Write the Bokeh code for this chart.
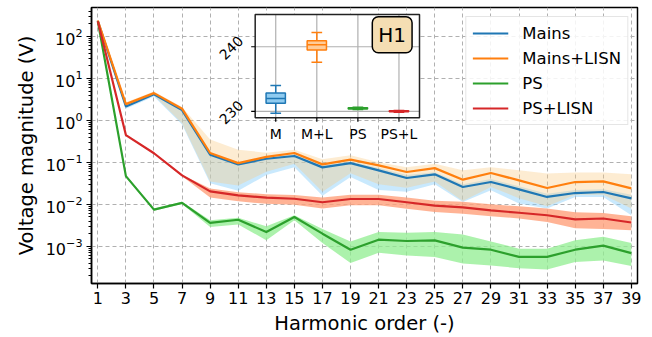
import numpy as np
from bokeh.plotting import figure
from bokeh.models import Range1d, LinearScale, Legend, LegendItem, Label
from bokeh.core.properties import value
from bokeh.embed import file_html
from bokeh.resources import INLINE

FONT = "DejaVu Sans"

# ---------------- data ----------------
harmonics = [1, 3, 5, 7, 9, 11, 13, 15, 17, 19, 21, 23, 25, 27, 29, 31, 33, 35, 37, 39]

mains = [232, 2.15, 4.2, 1.76, 0.152, 0.0895, 0.122, 0.142, 0.076, 0.096, 0.0645, 0.0424,
         0.0518, 0.0259, 0.034, 0.0228, 0.0150, 0.0186, 0.0197, 0.0139]
mains_lo = [229.5, 1.9, 3.7, 0.8, 0.032, 0.021, 0.05, 0.077, 0.016, 0.045, 0.022, 0.02,
            0.03, 0.0113, 0.0216, 0.0105, 0.008, 0.015, 0.015, 0.0055]
mains_hi = [234, 2.4, 4.6, 1.95, 0.17, 0.1, 0.135, 0.16, 0.085, 0.107, 0.073, 0.05,
            0.058, 0.03, 0.04, 0.027, 0.018, 0.022, 0.023, 0.017]

lisn = [240, 2.44, 4.47, 1.9, 0.167, 0.096, 0.135, 0.167, 0.0896, 0.116, 0.085, 0.0589,
        0.073, 0.0387, 0.0557, 0.0373, 0.0245, 0.034, 0.0353, 0.024]
lisn_lo = [238, 2.2, 4.0, 0.85, 0.035, 0.028, 0.06, 0.093, 0.02, 0.055, 0.03, 0.025,
           0.035, 0.012, 0.026, 0.014, 0.009, 0.017, 0.017, 0.008]
lisn_hi = [242, 2.7, 4.9, 2.1, 0.35, 0.2, 0.17, 0.2, 0.118, 0.147, 0.1, 0.077,
           0.093, 0.065, 0.077, 0.065, 0.054, 0.057, 0.057, 0.052]

ps = [230.5, 0.047, 0.0075, 0.0108, 0.0036, 0.0043, 0.0022, 0.005, 0.002, 0.00083, 0.00144,
      0.00134, 0.00139, 0.00093, 0.00083, 0.00056, 0.00056, 0.00083, 0.00104, 0.00069]
ps_lo = [230, 0.044, 0.007, 0.0102, 0.0029, 0.0033, 0.0014, 0.0042, 0.0012, 0.0004, 0.0007,
         0.0006, 0.00056, 0.00039, 0.00035, 0.0003, 0.00028, 0.00042, 0.00046, 0.00034]
ps_hi = [231, 0.05, 0.008, 0.0115, 0.0042, 0.0048, 0.003, 0.0055, 0.0026, 0.0013, 0.0022,
         0.0021, 0.0022, 0.0019, 0.0013, 0.00088, 0.00088, 0.0014, 0.0017, 0.0012]

psl = [230, 0.447, 0.165, 0.049, 0.0204, 0.0164, 0.0144, 0.0136, 0.0112, 0.0134, 0.0134,
       0.0112, 0.0093, 0.0085, 0.0072, 0.0063, 0.0055, 0.0044, 0.0046, 0.0037]
psl_lo = [229.5, 0.43, 0.158, 0.047, 0.0145, 0.0118, 0.0103, 0.0098, 0.008, 0.0095, 0.0095,
          0.0079, 0.0066, 0.006, 0.0052, 0.0046, 0.0038, 0.0027, 0.0026, 0.0024]
psl_hi = [230.5, 0.46, 0.172, 0.051, 0.024, 0.0195, 0.0175, 0.0168, 0.0145, 0.017, 0.017,
          0.0145, 0.0122, 0.0115, 0.0100, 0.009, 0.008, 0.0065, 0.0062, 0.0052]

series_names = ["Mains", "Mains+LISN", "PS", "PS+LISN"]
line_colors = ["#1f77b4", "#ff7f0e", "#2ca02c", "#d62728"]

# inset (H1 fundamental) box data
inset_labels = ["M", "M+L", "PS", "PS+L"]
inset_pos = [1, 2, 3, 4]
box_q1 = [231.24, 239.49, 230.36, 229.92]
box_q3 = [232.84, 240.93, 230.56, 230.08]
box_med = [232.0, 240.3, 230.46, 230.0]
box_wlo = [229.7, 237.6, 230.28, 229.86]
box_whi = [234.0, 242.2, 230.64, 230.14]
box_fill = ["#8fcbf0", "#ffcc99", "#90ee90", "#ffa07a"]
inset_yticks = [230, 240]
inset_ytick_labels = ["230", "240"]
INSET_X = (0.5, 4.5)
INSET_Y = (229.0, 245.0)

# ---------------- figure ----------------
p = figure(width=652, height=337, y_axis_type="log",
           x_range=Range1d(0.55, 39.44), y_range=Range1d(1.3e-4, 490),
           output_backend="svg", toolbar_location=None,
           min_border_left=91, min_border_right=15, min_border_top=7, min_border_bottom=54)

p.background_fill_color = "white"
p.outline_line_color = "black"
p.outline_line_width = 1.5

# bands
band_colors = [("#87cefa", 0.45), ("#f9ca82", 0.36), ("#90ee90", 0.75), ("#ffa07a", 0.8)]
band_data = [(mains_lo, mains_hi), (lisn_lo, lisn_hi), (ps_lo, ps_hi), (psl_lo, psl_hi)]
for (lo, hi), (c, a) in zip(band_data, band_colors):
    p.varea(x=harmonics, y1=lo, y2=hi, fill_color=c, fill_alpha=a)

# lines
line_renderers = []
for ys, c in zip([mains, lisn, ps, psl], line_colors):
    line_renderers.append(p.line(harmonics, ys, line_color=c, line_width=2.2))

# axes
p.xaxis.ticker = harmonics
p.xaxis.minor_tick_line_color = None
for ax in (p.xaxis, p.yaxis):
    ax.axis_line_width = 1.5
    ax.major_tick_in = 0
    ax.major_tick_out = 5
    ax.major_tick_line_width = 1.2
    ax.major_label_text_font = FONT
    ax.major_label_text_font_size = "16px"
    ax.major_label_text_color = "black"
    ax.axis_label_text_font = FONT
    ax.axis_label_text_font_size = "19.5px"
    ax.axis_label_text_font_style = "normal"
    ax.axis_label_text_color = "black"
p.yaxis.minor_tick_in = 0
p.yaxis.minor_tick_out = 3
p.xaxis.major_label_standoff = 3
p.yaxis.major_label_standoff = 4
p.xaxis.axis_label = "Harmonic order (-)"
p.yaxis.axis_label = "Voltage magnitude (V)"
p.xaxis.axis_label_standoff = 5
p.yaxis.axis_label_standoff = 5

p.grid.grid_line_color = "#b0b0b0"
p.grid.grid_line_dash = "4 3"
p.grid.grid_line_width = 1

# ---------------- inset ----------------
p.extra_x_ranges = {"ix": Range1d(-3.485, 9.807)}
p.extra_y_ranges = {"iy": Range1d(203.33, 246.08)}
p.extra_x_scales = {"ix": LinearScale()}
p.extra_y_scales = {"iy": LinearScale()}
kw = dict(x_range_name="ix", y_range_name="iy")

p.quad(left=[INSET_X[0]], right=[INSET_X[1]], bottom=[INSET_Y[0]], top=[INSET_Y[1]],
       fill_color="white", line_color=None, **kw)
# inset grid
p.segment(x0=inset_pos, x1=inset_pos, y0=[INSET_Y[0]] * 4, y1=[INSET_Y[1]] * 4,
          line_color="#b0b0b0", line_width=1.2, **kw)
p.segment(x0=[INSET_X[0]] * 2, x1=[INSET_X[1]] * 2, y0=inset_yticks, y1=inset_yticks,
          line_color="#b0b0b0", line_width=1.2, **kw)

# boxes
bw = 0.47
cw = 0.26
for i in range(4):
    c = line_colors[i]
    x = inset_pos[i]
    p.segment(x0=[x, x], x1=[x, x], y0=[box_wlo[i], box_q3[i]], y1=[box_q1[i], box_whi[i]],
              line_color=c, line_width=1.5, **kw)
    p.segment(x0=[x - cw / 2] * 2, x1=[x + cw / 2] * 2, y0=[box_wlo[i], box_whi[i]],
              y1=[box_wlo[i], box_whi[i]], line_color=c, line_width=1.5, **kw)
    p.quad(left=[x - bw / 2], right=[x + bw / 2], bottom=[box_q1[i]], top=[box_q3[i]],
           fill_color=box_fill[i], line_color=c, line_width=1.5, **kw)
    p.segment(x0=[x - bw / 2], x1=[x + bw / 2], y0=[box_med[i]], y1=[box_med[i]],
              line_color=c, line_width=1.5, **kw)

# inset border
p.quad(left=[INSET_X[0]], right=[INSET_X[1]], bottom=[INSET_Y[0]], top=[INSET_Y[1]],
       fill_color=None, line_color="#222222", line_width=1.5, **kw)

# inset ticks
px_x = 41.08
px_y = 6.456
p.segment(x0=[INSET_X[0]] * 2, x1=[INSET_X[0] - 4 / px_x] * 2, y0=inset_yticks, y1=inset_yticks,
          line_color="black", line_width=1.2, **kw)
p.segment(x0=inset_pos, x1=inset_pos, y0=[INSET_Y[0]] * 4, y1=[INSET_Y[0] - 4 / px_y] * 4,
          line_color="black", line_width=1.2, **kw)

# inset tick labels
p.text(x=inset_pos, y=[INSET_Y[0]] * 4, text=inset_labels, text_font=value(FONT),
       text_font_size="14px", text_align="center", text_baseline="top", y_offset=8,
       text_color="black", **kw)
p.text(x=[INSET_X[0]] * 2, y=inset_yticks, text=inset_ytick_labels, text_font=value(FONT),
       text_font_size="14px", text_align="center", text_baseline="middle",
       x_offset=-24, y_offset=1, angle=np.pi / 4, text_color="black", **kw)

h1 = Label(x=3.835, y=241.87, text="H1", text_font=FONT, text_font_size="20px",
           text_align="center", text_baseline="middle", text_color="black",
           background_fill_color="#f5deb3", border_line_color="black", border_line_width=1.5,
           padding=6, border_radius=6, **kw)
p.add_layout(h1)

# legend
legend = Legend(items=[LegendItem(label=n, renderers=[r]) for n, r in zip(series_names, line_renderers)],
                location="top_right", label_text_font=FONT, label_text_font_size="16.5px",
                label_text_color="black",
                border_line_color="#cccccc", border_line_width=1, background_fill_alpha=0.85,
                margin=9, padding=6, spacing=5, glyph_width=36, glyph_height=20,
                label_height=20, label_standoff=14)
p.add_layout(legend)

open("out.html", "w").write(file_html(p, INLINE))
